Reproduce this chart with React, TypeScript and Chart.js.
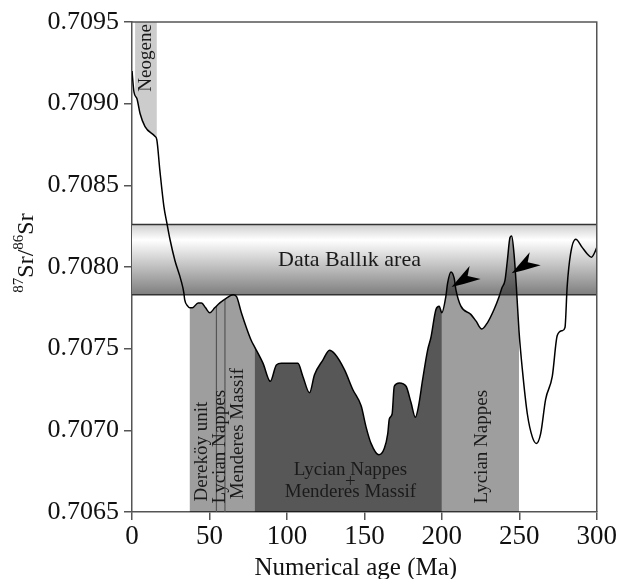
import React, { useEffect, useRef } from "react";
import { Chart, registerables } from "chart.js";

Chart.register(...registerables);

// Seawater Sr isotope curve (age in Ma, 87Sr/86Sr)
const ages = [0, 1.3, 3.2, 5.2, 8.4, 14.8, 16, 18, 20.6, 22.5, 24.5, 27.7, 31.6, 33.5, 34, 36, 37.3, 39, 42.7, 44.9, 47.5, 50.2, 53.4, 56.7, 61, 65.2, 67.4, 70.6, 73.8, 77, 79.2, 84.6, 89.3, 93.2, 96.4, 100, 104, 107.1, 110.3, 114.6, 117.8, 123.2, 127.5, 130.7, 137.2, 142.5, 147.9, 151.1, 154.3, 159.3, 162.9, 165.1, 166.1, 167.9, 169.3, 172.6, 176.9, 180.1, 182.9, 185, 187.6, 190.8, 193, 196.2, 198.3, 200, 202.6, 203.7, 205.9, 208, 209.1, 212.3, 218.7, 222, 225.8, 229.5, 233.7, 237, 238.7, 240.8, 242.3, 244, 245.1, 246.6, 248.1, 249.8, 252, 255.2, 258.4, 261, 263.8, 267, 271.3, 274.5, 277.7, 279.5, 280.9, 283.1, 286.4, 290.6, 293.9, 296.6, 299.2, 300];
const srRatio = [0.7092, 0.70907, 0.70903, 0.70894, 0.70886, 0.7088, 0.70878, 0.70859, 0.70837, 0.70827, 0.70817, 0.70804, 0.70792, 0.70784, 0.7078, 0.70776, 0.70775, 0.70775, 0.70778, 0.70778, 0.70775, 0.70772, 0.70775, 0.70778, 0.70781, 0.70783, 0.70782, 0.70772, 0.70763, 0.70755, 0.70751, 0.70741, 0.7073, 0.7074, 0.70741, 0.70741, 0.70741, 0.70741, 0.70733, 0.70723, 0.70734, 0.70743, 0.70749, 0.70747, 0.70737, 0.70725, 0.70715, 0.70702, 0.70692, 0.70685, 0.70689, 0.70698, 0.70707, 0.7071, 0.70727, 0.70729, 0.70727, 0.70717, 0.70708, 0.70715, 0.70731, 0.70749, 0.70757, 0.70774, 0.70776, 0.70772, 0.70782, 0.7079, 0.70797, 0.70793, 0.70786, 0.70776, 0.70771, 0.70767, 0.70762, 0.70766, 0.70774, 0.70782, 0.70787, 0.70792, 0.70804, 0.70818, 0.70819, 0.70808, 0.70788, 0.70761, 0.70737, 0.7071, 0.70696, 0.70692, 0.70698, 0.70719, 0.70733, 0.70758, 0.70761, 0.70763, 0.70788, 0.70808, 0.70817, 0.70812, 0.70808, 0.70806, 0.7081, 0.70812];

// Shaded age intervals
const regionFrom = [2, 37.3, 79.2, 200];
const regionTo = [16, 79.2, 200, 249.8];
const regionSide = ["above", "below", "below", "below"];
const regionColor = ["rgba(0,0,0,0.2)", "rgba(0,0,0,0.38)", "rgba(0,0,0,0.66)", "rgba(0,0,0,0.38)"];
const dividerAges = [54.5, 60];

// Data Ballık band
const bandTop = 0.70826;
const bandBottom = 0.70783;

// Arrow targets
const arrowAges = [206.3, 245.1];
const arrowValues = [0.707877, 0.707961];

const xTicks = [0, 50, 100, 150, 200, 250, 300];
const yTicks = [0.7065, 0.707, 0.7075, 0.708, 0.7085, 0.709, 0.7095];

const SERIF = "'Liberation Serif', 'Times New Roman', serif";

function curvePath(ctx: CanvasRenderingContext2D, pts: any[], baseY: number) {
  ctx.beginPath();
  ctx.moveTo(pts[0].x, baseY);
  ctx.lineTo(pts[0].x, pts[0].y);
  for (let i = 1; i < pts.length; i++) {
    const p = pts[i - 1];
    const c = pts[i];
    if (p.cp2x !== undefined && c.cp1x !== undefined) {
      ctx.bezierCurveTo(p.cp2x, p.cp2y, c.cp1x, c.cp1y, c.x, c.y);
    } else {
      ctx.lineTo(c.x, c.y);
    }
  }
  ctx.lineTo(pts[pts.length - 1].x, baseY);
  ctx.closePath();
}

const decorPlugin = {
  id: "decor",
  beforeDatasetsDraw(chart: any) {
    const { ctx, chartArea: a, scales } = chart;
    const xs = scales.x;
    const ys = scales.y;
    const pts = chart.getDatasetMeta(0).data;
    // band
    const yT = ys.getPixelForValue(bandTop);
    const yB = ys.getPixelForValue(bandBottom);
    const g = ctx.createLinearGradient(0, yT, 0, yB);
    g.addColorStop(0, "#cfcfcf");
    g.addColorStop(0.22, "#ffffff");
    g.addColorStop(1, "#7e7e7e");
    ctx.save();
    ctx.fillStyle = g;
    ctx.fillRect(a.left, yT, a.right - a.left, yB - yT);
    // region fills
    for (let i = 0; i < regionFrom.length; i++) {
      const x0 = xs.getPixelForValue(regionFrom[i]);
      const x1 = xs.getPixelForValue(regionTo[i]);
      ctx.save();
      ctx.beginPath();
      ctx.rect(x0, a.top, x1 - x0, a.bottom - a.top);
      ctx.clip();
      curvePath(ctx, pts, regionSide[i] === "above" ? a.top : a.bottom);
      ctx.fillStyle = regionColor[i];
      ctx.fill();
      ctx.restore();
    }
    // divider lines inside first unit
    ctx.save();
    ctx.beginPath();
    curvePath(ctx, pts, a.bottom);
    ctx.clip();
    ctx.strokeStyle = "#555";
    ctx.lineWidth = 1.2;
    for (const d of dividerAges) {
      const x = xs.getPixelForValue(d);
      ctx.beginPath();
      ctx.moveTo(x, a.bottom);
      ctx.lineTo(x, a.top);
      ctx.stroke();
    }
    ctx.restore();
    // band borders
    ctx.strokeStyle = "#333";
    ctx.lineWidth = 1.5;
    ctx.beginPath();
    ctx.moveTo(a.left, yT);
    ctx.lineTo(a.right, yT);
    ctx.moveTo(a.left, yB);
    ctx.lineTo(a.right, yB);
    ctx.stroke();
    ctx.restore();
  },
  afterDatasetsDraw(chart: any) {
    const { ctx, chartArea: a, scales } = chart;
    const xs = scales.x;
    const ys = scales.y;
    const X = (v: number) => xs.getPixelForValue(v);
    const Y = (v: number) => ys.getPixelForValue(v);
    ctx.save();
    ctx.fillStyle = "#1a1a1a";
    ctx.textAlign = "center";
    ctx.textBaseline = "middle";
    const vtext = (t: string, ax: number, av: number, size: number) => {
      ctx.save();
      ctx.translate(X(ax), Y(av));
      ctx.rotate(-Math.PI / 2);
      ctx.font = `${size}px ${SERIF}`;
      ctx.fillText(t, 0, 0);
      ctx.restore();
    };
    vtext("Neogene", 9, 0.70928, 19);
    vtext("Dereköy unit", 45, 0.70687, 19);
    vtext("Lycian Nappes", 56.7, 0.7069, 19);
    vtext("Menderes Massif", 68.3, 0.70698, 19);
    vtext("Lycian Nappes", 226, 0.7069, 19);
    ctx.font = `19px ${SERIF}`;
    ctx.fillText("Lycian Nappes", X(141), Y(0.70676));
    ctx.fillText("+", X(141), Y(0.706685));
    ctx.fillText("Menderes Massif", X(141), Y(0.70662));
    ctx.font = `22px ${SERIF}`;
    ctx.fillText("Data Ballık area", X(140.4), Y(0.70804));
    // arrows
    ctx.fillStyle = "#000";
    for (let i = 0; i < arrowAges.length; i++) {
      const tx = X(arrowAges[i]);
      const ty = Y(arrowValues[i]);
      ctx.beginPath();
      ctx.moveTo(tx, ty);
      ctx.lineTo(tx + 18, ty - 21);
      ctx.lineTo(tx + 16, ty - 11);
      ctx.lineTo(tx + 29, ty - 8);
      ctx.lineTo(tx + 12, ty - 3);
      ctx.closePath();
      ctx.fill();
    }
    // frame top and right
    ctx.strokeStyle = "#555";
    ctx.lineWidth = 1.5;
    ctx.beginPath();
    ctx.moveTo(a.left, a.top);
    ctx.lineTo(a.right, a.top);
    ctx.lineTo(a.right, a.bottom);
    ctx.stroke();
    // x axis title
    ctx.fillStyle = "#111";
    ctx.font = `25px ${SERIF}`;
    ctx.textAlign = "center";
    ctx.textBaseline = "alphabetic";
    ctx.fillText("Numerical age (Ma)", X(144.5), 575);
    // y axis title with superscripts
    ctx.save();
    ctx.translate(25, 253);
    ctx.rotate(-Math.PI / 2);
    ctx.textAlign = "left";
    ctx.textBaseline = "alphabetic";
    const big = `24px ${SERIF}`;
    const small = `15px ${SERIF}`;
    const parts: [string, string, number][] = [["87", small, -10], ["Sr/", big, 0], ["86", small, -10], ["Sr", big, 0]];
    let total = 0;
    for (const [t, f] of parts) { ctx.font = f; total += ctx.measureText(t).width; }
    let cx = -total / 2;
    for (const [t, f, dy] of parts) {
      ctx.font = f;
      ctx.fillText(t, cx, 8 + dy);
      cx += ctx.measureText(t).width;
    }
    ctx.restore();
    ctx.restore();
  },
};

export default function App() {
  const ref = useRef<HTMLCanvasElement | null>(null);
  useEffect(() => {
    if (!ref.current) return;
    const chart = new Chart(ref.current, {
      type: "line",
      data: {
        datasets: [
          {
            data: ages.map((a, i) => ({ x: a, y: srRatio[i] })),
            borderColor: "#000",
            borderWidth: 1.5,
            pointRadius: 0,
            fill: false,
            cubicInterpolationMode: "monotone",
          },
        ],
      },
      options: {
        animation: false,
        responsive: false,
        events: [],
        layout: { padding: { left: 0, right: 20, top: 22, bottom: 0 } },
        plugins: { legend: { display: false }, tooltip: { enabled: false } },
        scales: {
          x: {
            type: "linear",
            min: 0,
            max: 300,
            afterFit: (s: any) => { s.height = 67; },
            afterBuildTicks: (s: any) => { s.ticks = xTicks.map((v) => ({ value: v })); },
            ticks: { font: { family: SERIF, size: 27 }, color: "#111", padding: 1, maxRotation: 0 },
            grid: { drawOnChartArea: false, drawTicks: true, tickLength: 8, color: "#555", lineWidth: 1.5 },
            border: { color: "#555", width: 1.5 },
          },
          y: {
            type: "linear",
            min: 0.7065,
            max: 0.7095,
            afterFit: (s: any) => { s.width = 132; },
            afterBuildTicks: (s: any) => { s.ticks = yTicks.map((v) => ({ value: v })); },
            ticks: { font: { family: SERIF, size: 26 }, color: "#111", padding: 5, callback: (v: any) => Number(v).toFixed(4) },
            grid: { drawOnChartArea: false, drawTicks: true, tickLength: 8, color: "#555", lineWidth: 1.5 },
            border: { color: "#555", width: 1.5 },
          },
        },
      },
      plugins: [decorPlugin],
    } as any);
    return () => chart.destroy();
  }, []);
  return (
    <div style={{ position: "fixed", left: 0, top: 0, width: 618, height: 579, background: "#fff" }}>
      <canvas ref={ref} width={618} height={579} style={{ display: "block" }} />
    </div>
  );
}
